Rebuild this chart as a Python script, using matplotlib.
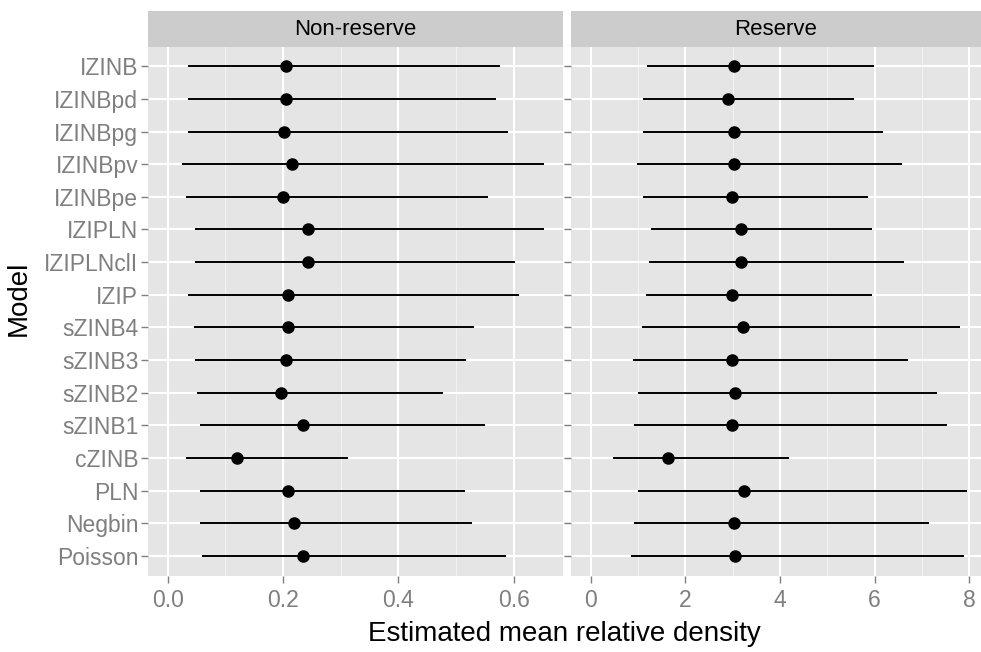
import matplotlib
matplotlib.use("Agg")
import matplotlib.pyplot as plt
from matplotlib.ticker import MultipleLocator, FixedLocator

plt.rcParams['font.family'] = ['Liberation Sans', 'DejaVu Sans']

models = ["IZINB", "IZINBpd", "IZINBpg", "IZINBpv", "IZINBpe", "IZIPLN",
          "IZIPLNclI", "IZIP", "sZINB4", "sZINB3", "sZINB2", "sZINB1",
          "cZINB", "PLN", "Negbin", "Poisson"]

# Non-reserve estimates with lower / upper interval bounds
nonres_est = [0.206, 0.206, 0.202, 0.216, 0.200, 0.244, 0.244, 0.209,
              0.209, 0.206, 0.197, 0.234, 0.121, 0.208, 0.219, 0.234]
nonres_lo = [0.035, 0.035, 0.035, 0.025, 0.032, 0.047, 0.047, 0.035,
             0.045, 0.047, 0.051, 0.057, 0.032, 0.057, 0.057, 0.060]
nonres_hi = [0.577, 0.569, 0.591, 0.653, 0.556, 0.653, 0.603, 0.609,
             0.531, 0.518, 0.477, 0.550, 0.312, 0.515, 0.528, 0.587]

# Reserve estimates with lower / upper interval bounds
res_est = [3.02, 2.90, 3.02, 3.02, 2.98, 3.17, 3.17, 2.98,
           3.21, 2.98, 3.05, 2.98, 1.64, 3.23, 3.02, 3.05]
res_lo = [1.19, 1.11, 1.11, 0.97, 1.11, 1.27, 1.23, 1.16,
          1.08, 0.89, 1.00, 0.92, 0.47, 1.00, 0.92, 0.85]
res_hi = [5.98, 5.57, 6.18, 6.59, 5.87, 5.94, 6.63, 5.94,
          7.81, 6.71, 7.32, 7.54, 4.19, 7.96, 7.16, 7.89]

facets = ["Non-reserve", "Reserve"]
x_ticks_left = [0.0, 0.2, 0.4, 0.6]
x_ticks_right = [0, 2, 4, 6, 8]

W, H = 981, 652
fig = plt.figure(figsize=(W / 100, H / 100), dpi=100)

panel_bg = "#E5E5E5"
strip_bg = "#CCCCCC"
minor_col = "#F2F2F2"
tick_col = "#7F7F7F"


def px_axes(x0, y0, x1, y1):
    return fig.add_axes([x0 / W, 1 - y1 / H, (x1 - x0) / W, (y1 - y0) / H])


panels = [
    (148, 562.7, (-0.034, 0.685), x_ticks_left, 0.1, ["0.0", "0.2", "0.4", "0.6"],
     nonres_est, nonres_lo, nonres_hi),
    (571, 981, (-0.42, 8.25), x_ticks_right, 1, ["0", "2", "4", "6", "8"],
     res_est, res_lo, res_hi),
]

n = len(models)
ypos = [n - 1 - i for i in range(n)]

for k, (x0, x1, xlim, ticks, minor_step, tlabels, est, lo, hi) in enumerate(panels):
    ax = px_axes(x0, 46.7, x1, 575.5)
    ax.set_facecolor(panel_bg)
    ax.set_xlim(*xlim)
    ax.set_ylim(-0.6, n - 1 + 0.6)
    ax.xaxis.set_major_locator(FixedLocator(ticks))
    ax.xaxis.set_minor_locator(MultipleLocator(minor_step))
    ax.set_xticklabels(tlabels)
    ax.set_yticks(ypos)
    if k == 0:
        ax.set_yticklabels(models)
    else:
        ax.set_yticklabels([])
        ax.tick_params(axis='y', length=0)
    ax.grid(which='major', color='white', linewidth=1.5)
    ax.grid(which='minor', axis='x', color=minor_col, linewidth=0.8)
    ax.set_axisbelow(True)
    for s in ax.spines.values():
        s.set_visible(False)
    ax.tick_params(axis='both', which='major', colors=tick_col, labelcolor=tick_col,
                   labelsize=16.5, length=5, width=1.0, pad=2)
    ax.tick_params(axis='x', which='major', pad=5)
    ax.tick_params(axis='x', which='minor', length=0)
    for lab in ax.get_yticklabels():
        lab.set_va('center_baseline')
    ax.hlines(ypos, lo, hi, color='black', linewidth=1.4, zorder=3)
    ax.plot(est, ypos, 'o', color='black', markersize=8, zorder=4)

    sax = px_axes(x0, 11, x1, 46.7)
    sax.set_facecolor(strip_bg)
    sax.set_xticks([])
    sax.set_yticks([])
    for s in sax.spines.values():
        s.set_visible(False)
    sax.text(0.5, 0.47, facets[k], ha='center', va='center', fontsize=16,
             color='black', transform=sax.transAxes)

fig.text((148 + 981) / 2 / W, 1 - 634 / H, "Estimated mean relative density",
         ha='center', va='center', fontsize=20, color='black')
fig.text(19 / W, 1 - 298 / H, "Model", ha='center', va='center', fontsize=20,
         color='black', rotation=90)

fig.savefig("out.png", dpi=100, facecolor='white')
